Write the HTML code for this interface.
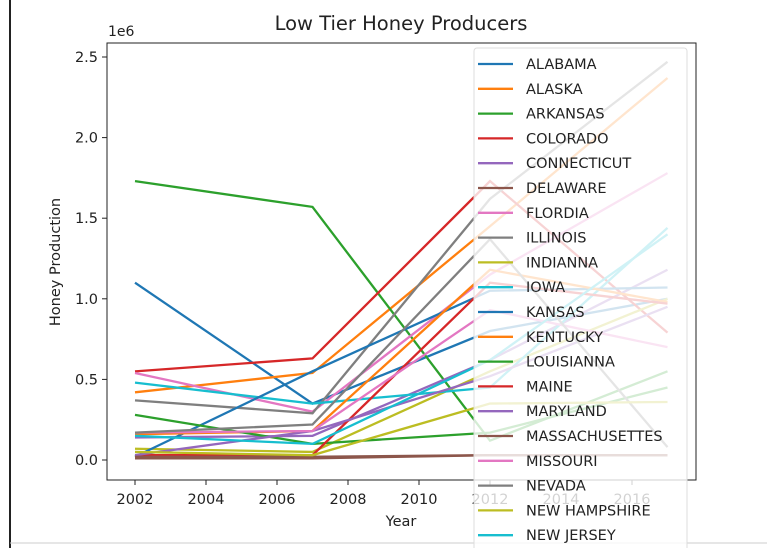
<!DOCTYPE html>
<html><head><meta charset="utf-8"><style>
body{margin:0;background:#fff;}
svg{display:block;font-family:"DejaVu Sans","Liberation Sans",sans-serif;}
</style></head><body>
<svg id="chart" width="767" height="548">
<rect x="0" y="0" width="767" height="548" fill="#fff"/>
<line x1="10" y1="0" x2="10" y2="548" stroke="#222" stroke-width="2"/>
<line x1="10" y1="543" x2="767" y2="543" stroke="#ccc" stroke-width="1"/>
<text x="401" y="30" font-size="19.5" text-anchor="middle" fill="#222">Low Tier Honey Producers</text>
<text x="108" y="36" font-size="14" fill="#222">1e6</text>
<text transform="translate(60,262) rotate(-90)" font-size="14.5" text-anchor="middle" fill="#222">Honey Production</text>
<text x="401" y="526" font-size="14.5" text-anchor="middle" fill="#222">Year</text>
<g id="ticks"></g>
<g id="lines"></g>
<rect x="107" y="43" width="589" height="437" fill="none" stroke="#222" stroke-width="1"/>
<g id="legend"></g>
</svg>
<script>
const years = [2002, 2007, 2012, 2017];
const xTicks = [2002, 2004, 2006, 2008, 2010, 2012, 2014, 2016];
const yTicks = [0, 0.5, 1.0, 1.5, 2.0, 2.5];
const names = ["ALABAMA","ALASKA","ARKANSAS","COLORADO","CONNECTICUT","DELAWARE","FLORDIA","ILLINOIS","INDIANNA","IOWA","KANSAS","KENTUCKY","LOUISIANNA","MAINE","MARYLAND","MASSACHUSETTES","MISSOURI","NEVADA","NEW HAMPSHIRE","NEW JERSEY"];
const s0 = [1.10,0.35,0.80,1.00];
const s1 = [0.42,0.54,1.45,2.37];
const s2 = [1.73,1.57,0.12,0.55];
const s3 = [0.55,0.63,1.73,0.79];
const s4 = [0.14,0.15,0.62,1.18];
const s5 = [0.01,0.01,0.03,0.03];
const s6 = [0.54,0.30,1.15,1.78];
const s7 = [0.37,0.29,1.62,2.47];
const s8 = [0.07,0.05,0.55,1.00];
const s9 = [0.48,0.35,0.45,1.44];
const s10 = [0.02,0.55,1.05,1.07];
const s11 = [0.16,0.18,1.18,0.98];
const s12 = [0.28,0.10,0.17,0.45];
const s13 = [0.03,0.03,1.10,0.97];
const s14 = [0.03,0.18,0.52,0.95];
const s15 = [0.02,0.02,0.03,0.03];
const s16 = [0.17,0.18,0.93,0.70];
const s17 = [0.17,0.22,1.37,0.08];
const s18 = [0.05,0.03,0.35,0.36];
const s19 = [0.15,0.10,0.62,1.40];
const series = [s0,s1,s2,s3,s4,s5,s6,s7,s8,s9,s10,s11,s12,s13,s14,s15,s16,s17,s18,s19];
const colors = ["#1f77b4","#ff7f0e","#2ca02c","#d62728","#9467bd","#8c564b","#e377c2","#7f7f7f","#bcbd22","#17becf"];
const NS = "http://www.w3.org/2000/svg";
function xs(y){ return 135 + (y - 2002) * 35.5; }
function ys(v){ return 460 - v * 161.2; }
function mk(tag, attrs, parent){ const e = document.createElementNS(NS, tag); for (const k in attrs) e.setAttribute(k, attrs[k]); parent.appendChild(e); return e; }
const tg = document.getElementById('ticks');
xTicks.forEach(t => {
  const l = mk('line', {x1: xs(t), x2: xs(t), y1: 480, y2: 485, stroke: '#222'}, tg);
  
  
  const tx = mk('text', {x: xs(t), y: 504, 'font-size': 14.5, 'text-anchor': 'middle', fill: '#222'}, tg);
  tx.textContent = t;
  
  
});
yTicks.forEach(t => {
  const l = mk('line', {x1: 102, x2: 107, y1: ys(t), y2: ys(t), stroke: '#222'}, tg);
  
  
  const tx = mk('text', {x: 98, y: ys(t) + 5, 'font-size': 14.5, 'text-anchor': 'end', fill: '#222'}, tg);
  tx.textContent = t.toFixed(1);
  
  
});
const lg = document.getElementById('lines');
series.forEach((s, i) => {
  const pts = s.map((v, j) => xs(years[j]) + ',' + ys(v)).join(' ');
  const p = mk('polyline', {points: pts, fill: 'none', stroke: colors[i % 10], 'stroke-width': 2.3}, lg);
  
  
});
const leg = document.getElementById('legend');
const box = mk('rect', {x: 474, y: 48, width: 213, height: 520, rx: 3, fill: '#fff', 'fill-opacity': 0.8, stroke: '#ddd'}, leg);


names.forEach((n, i) => {
  const y = 64 + i * 24.8;
  const l = mk('line', {x1: 478, x2: 513, y1: y, y2: y, stroke: colors[i % 10], 'stroke-width': 2.3}, leg);
  
  
  const t = mk('text', {x: 526, y: y + 5, 'font-size': 14.5, fill: '#222'}, leg);
  t.textContent = n;
  
  
});
</script>
</body></html>
